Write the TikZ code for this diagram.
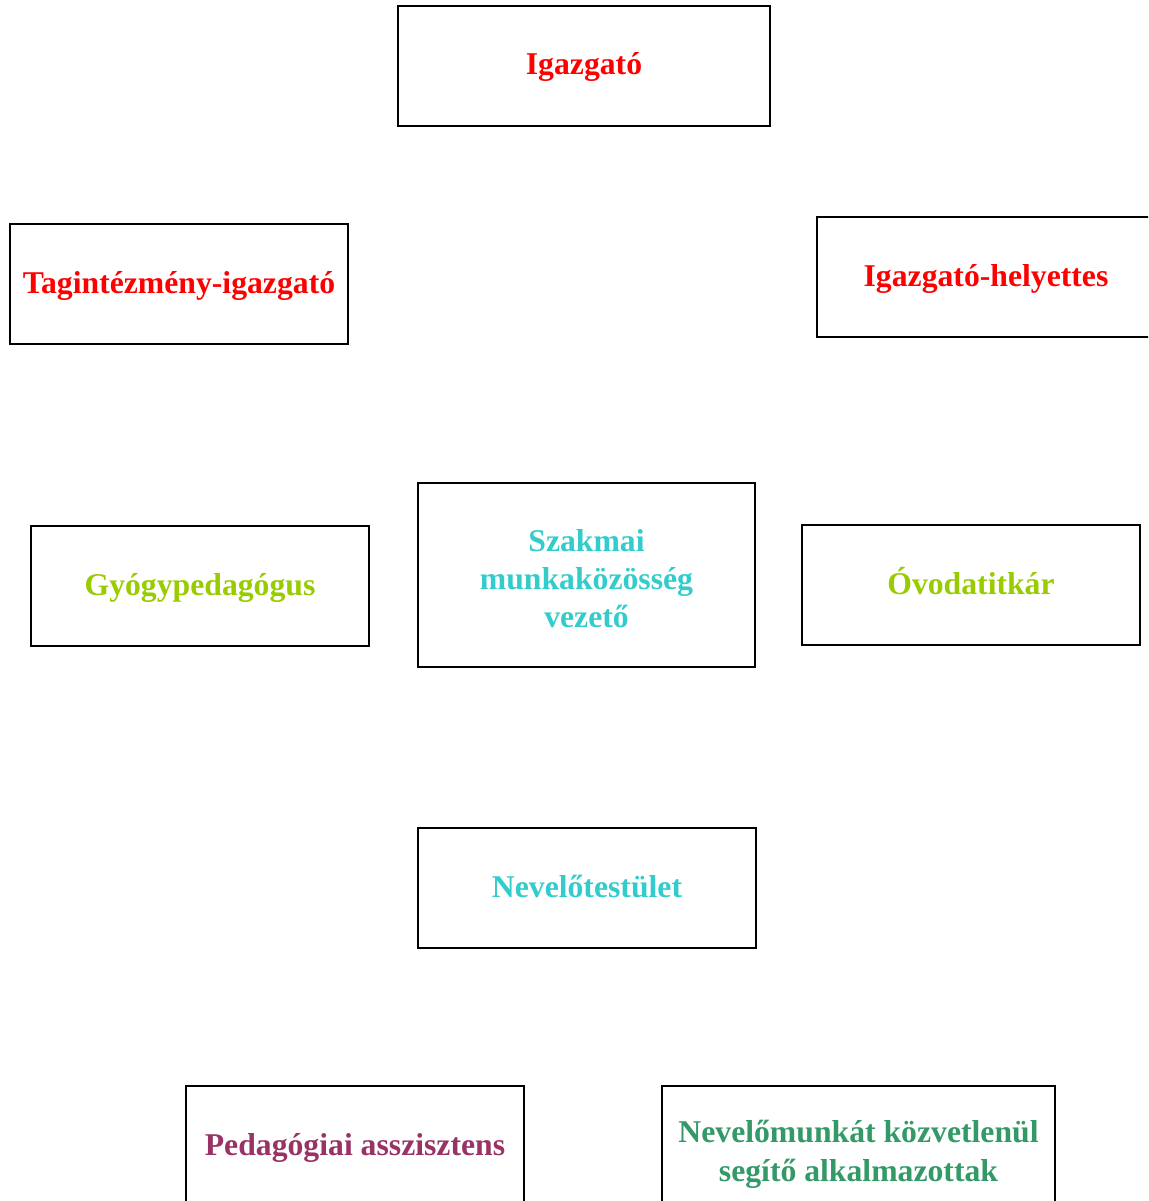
\documentclass[tikz,border=0pt]{standalone}
\usepackage{fontspec}
\setmainfont{Liberation Serif}
\definecolor{cred}{HTML}{FF0000}
\definecolor{cyg}{HTML}{99CC00}
\definecolor{cturq}{HTML}{33CCCC}
\definecolor{cplum}{HTML}{993366}
\definecolor{cgreen}{HTML}{339966}
\begin{document}
\begin{tikzpicture}[x=1pt,y=-1pt,
  box/.style={draw=black, line width=2pt, inner sep=0pt, minimum width=338pt, minimum height=120pt,
    align=center, font=\fontsize{31.7}{38}\selectfont\bfseries},
  oneline/.style={text height=22pt, text depth=4pt}]
\useasboundingbox (0,0) rectangle (1148,1201);
\begin{scope}
\clip (0,0) rectangle (1148,1201);
\node[box, oneline, minimum width=372pt, text=cred] (igazgato) at (584,66) {Igazgató};
\node[box, oneline, text=cred] (tagint) at (179,284) {Tagintézmény-igazgató};
\node[box, oneline, text=cred] (helyettes) at (986,277) {Igazgató-helyettes};
\node[box, oneline, text=cyg] (gyogy) at (200,586) {Gyógypedagógus};
\node[box, minimum width=337pt, minimum height=184pt, text=cturq] (szakmai) at (586.5,575) {};
\node[text=cturq, align=center, inner sep=0pt, font=\fontsize{31.7}{38}\selectfont\bfseries] (szakmaitext) at (586.5,578.5) {Szakmai\\munkaközösség\\vezető};
\node[box, oneline, text=cyg] (ovoda) at (971,585) {Óvodatitkár};
\node[box, oneline, text=cturq] (nevelo) at (587,888) {Nevelőtestület};
\node[box, oneline, text=cplum] (pedasz) at (355,1146) {Pedagógiai asszisztens};
\node[box, minimum width=393pt, minimum height=132pt] (segito) at (858.5,1152) {};
\node[text=cgreen, align=center, inner sep=0pt, font=\fontsize{31.7}{39}\selectfont\bfseries] (segitotext) at (858.5,1154.5) {Nevelőmunkát közvetlenül\\segítő alkalmazottak};
\end{scope}
\end{tikzpicture}
\end{document}
